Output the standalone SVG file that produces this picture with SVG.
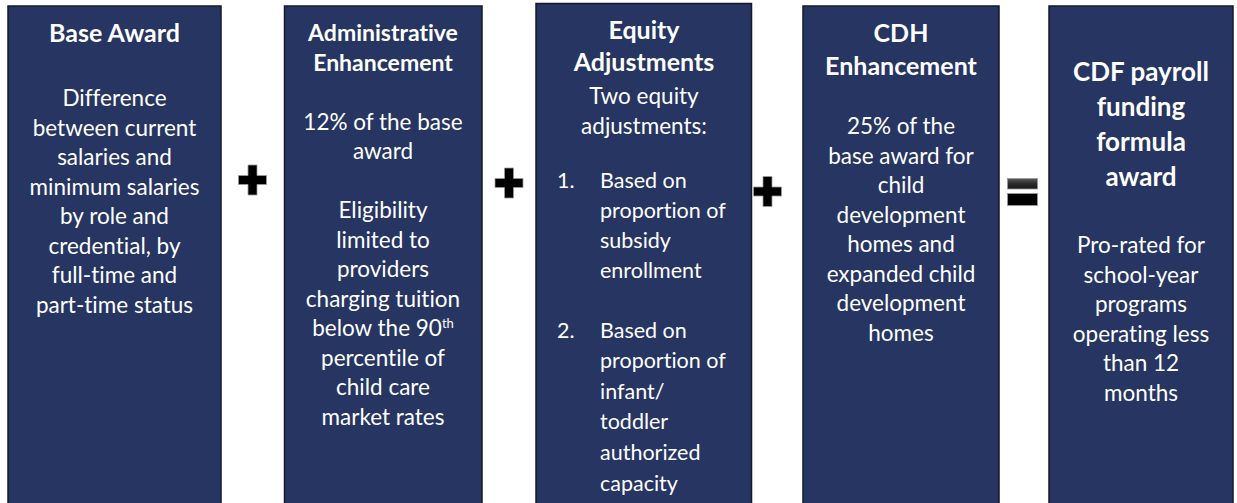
<svg xmlns="http://www.w3.org/2000/svg" width="1237" height="503" viewBox="0 0 1237 503">
<style>
.box{fill:#263561;stroke:#141a2c;stroke-width:1.5}
text{font-family:Lato,"Open Sans","Liberation Sans",sans-serif;fill:#ffffff;font-variant-ligatures:none}
.t{font-weight:bold;font-size:23px;text-anchor:middle}
.t2{font-weight:bold;font-size:25px;text-anchor:middle}
.tb{font-weight:bold;font-size:26px;text-anchor:middle}
.b{font-size:22.5px;text-anchor:middle}
.l{font-size:21.5px}
.op{fill:#000000;stroke:#9a9a9a;stroke-width:0.8}
</style>
<defs>
<path id="plus" d="M-4.5,-15 H4.5 V-4.5 H14 V4.5 H4.5 V15 H-4.5 V4.5 H-14 V-4.5 H-4.5 Z"/>
<linearGradient id="eqg" x1="0" y1="0" x2="0" y2="1">
<stop offset="0" stop-color="#5a5a5a"/><stop offset="0.5" stop-color="#2a2a2a"/><stop offset="1" stop-color="#1a1a1a"/>
</linearGradient>
</defs>
<rect width="1237" height="503" fill="#ffffff"/>
<g id="base-award">
<rect class="box" x="8" y="6" width="213" height="510"/>
<text class="t2" x="114.5" y="42">Base Award</text>
<text class="b" x="114.5" y="106">Difference</text>
<text class="b" x="114.5" y="135.5">between current</text>
<text class="b" x="114.5" y="165">salaries and</text>
<text class="b" x="114.5" y="194.5">minimum salaries</text>
<text class="b" x="114.5" y="224">by role and</text>
<text class="b" x="114.5" y="253.5">credential, by</text>
<text class="b" x="114.5" y="283">full-time and</text>
<text class="b" x="114.5" y="312.5">part-time status</text>
</g>
<g id="admin-enhancement">
<rect class="box" x="284.5" y="6" width="197.5" height="510"/>
<text class="t" x="383" y="41">Administrative</text>
<text class="t" x="383" y="70.5">Enhancement</text>
<text class="b" x="383" y="129.5">12% of the base</text>
<text class="b" x="383" y="159">award</text>
<text class="b" x="383" y="218">Eligibility</text>
<text class="b" x="383" y="247.5">limited to</text>
<text class="b" x="383" y="277">providers</text>
<text class="b" x="383" y="306.5">charging tuition</text>
<text class="b" x="383" y="336">below the 90<tspan font-size="13px" dy="-8">th</tspan></text>
<text class="b" x="383" y="365.5">percentile of</text>
<text class="b" x="383" y="395">child care</text>
<text class="b" x="383" y="424.5">market rates</text>
</g>
<g id="equity-adjustments">
<rect class="box" x="536" y="3.5" width="215.5" height="510"/>
<text class="t2" x="644" y="39">Equity</text>
<text class="t2" x="644" y="71">Adjustments</text>
<text class="b" x="644" y="104">Two equity</text>
<text class="b" x="644" y="134">adjustments:</text>
<text class="l" x="557" y="188">1.</text>
<text class="l" x="600" y="188">Based on</text>
<text class="l" x="600" y="218">proportion of</text>
<text class="l" x="600" y="248">subsidy</text>
<text class="l" x="600" y="277.5">enrollment</text>
<text class="l" x="557" y="338">2.</text>
<text class="l" x="600" y="338">Based on</text>
<text class="l" x="600" y="368">proportion of</text>
<text class="l" x="600" y="399">infant/</text>
<text class="l" x="600" y="429">toddler</text>
<text class="l" x="600" y="460">authorized</text>
<text class="l" x="600" y="491">capacity</text>
</g>
<g id="cdh-enhancement">
<rect class="box" x="803" y="6" width="196" height="510"/>
<text class="t2" x="901" y="42">CDH</text>
<text class="t2" x="901" y="75">Enhancement</text>
<text class="b" x="901" y="134">25% of the</text>
<text class="b" x="901" y="163.5">base award for</text>
<text class="b" x="901" y="193">child</text>
<text class="b" x="901" y="222.5">development</text>
<text class="b" x="901" y="252">homes and</text>
<text class="b" x="901" y="281.5">expanded child</text>
<text class="b" x="901" y="311">development</text>
<text class="b" x="901" y="340.5">homes</text>
</g>
<g id="cdf-award">
<rect class="box" x="1049" y="6" width="184" height="510"/>
<text class="tb" x="1141" y="81">CDF payroll</text>
<text class="tb" x="1141" y="116">funding</text>
<text class="tb" x="1141" y="151">formula</text>
<text class="tb" x="1141" y="186">award</text>
<text class="b" x="1141" y="253">Pro-rated for</text>
<text class="b" x="1141" y="282.5">school-year</text>
<text class="b" x="1141" y="312">programs</text>
<text class="b" x="1141" y="341.5">operating less</text>
<text class="b" x="1141" y="371">than 12</text>
<text class="b" x="1141" y="400.5">months</text>
</g>
<g id="connectors">
<use href="#plus" class="op" x="252.5" y="180"/>
<use href="#plus" class="op" x="509" y="183"/>
<use href="#plus" class="op" x="767.5" y="191.5"/>
<rect x="1007.5" y="178.5" width="30" height="10.5" fill="url(#eqg)" stroke="#9a9a9a" stroke-width="0.8"/>
<rect x="1007.5" y="193.5" width="30" height="12" fill="#000000" stroke="#9a9a9a" stroke-width="0.8"/>
</g>
</svg>
